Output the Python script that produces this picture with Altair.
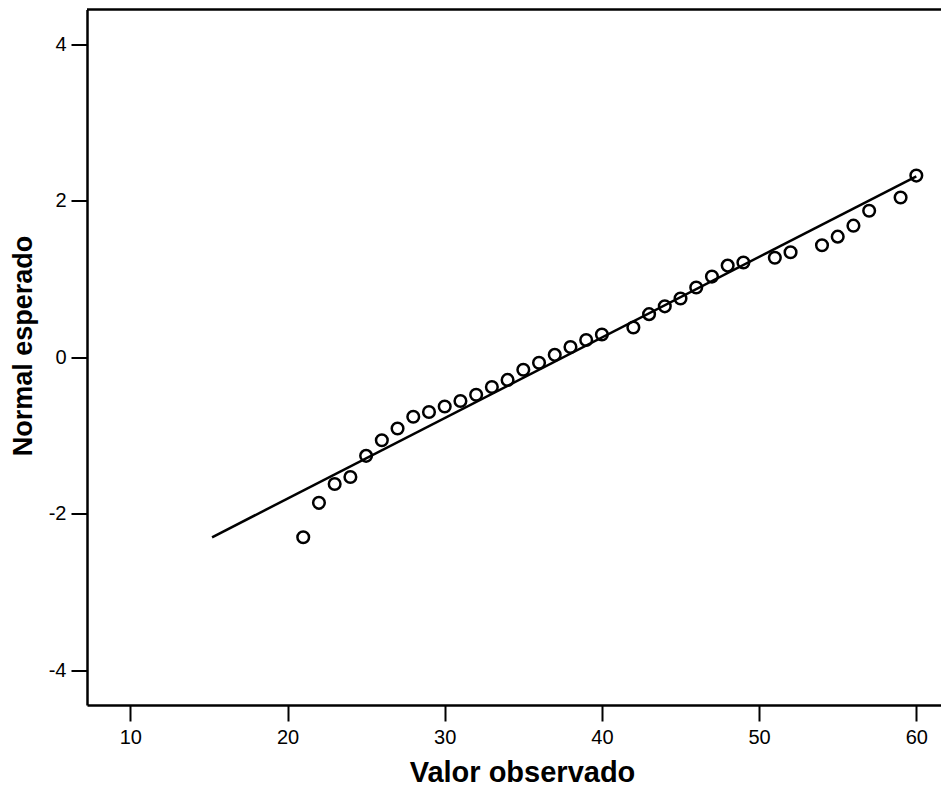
import altair as alt
import pandas as pd

# Observed values (x) and expected normal values (z)
observed = [21, 22, 23, 24, 25, 26, 27, 28, 29, 30, 31, 32, 33, 34, 35, 36, 37, 38,
            39, 40, 42, 43, 44, 45, 46, 47, 48, 49, 51, 52, 54, 55, 56, 57, 59, 60]
expected = [-2.30, -1.86, -1.62, -1.53, -1.26, -1.06, -0.91, -0.76, -0.70, -0.63,
            -0.56, -0.48, -0.38, -0.29, -0.16, -0.07, 0.03, 0.13, 0.22, 0.29,
            0.38, 0.55, 0.65, 0.75, 0.89, 1.03, 1.17, 1.21, 1.27, 1.34, 1.43,
            1.54, 1.68, 1.87, 2.04, 2.32]

# Reference line end points
line_x = [15.2, 60.0]
line_z = [-2.30, 2.31]

x_ticks = [10, 20, 30, 40, 50, 60]
y_ticks = [-4, -2, 0, 2, 4]

pts = pd.DataFrame({"x": observed, "z": expected})
ln = pd.DataFrame({"x": line_x, "z": line_z})

W, H = 854, 695.5
FONT = "Liberation Sans"

xs = alt.Scale(domain=[7.245, 61.57], nice=False, zero=False)
ys = alt.Scale(domain=[-4.442, 4.441], nice=False, zero=False)

x_axis = alt.Axis(values=x_ticks, grid=False, domainWidth=2.5, domainColor="black",
                  tickColor="black", tickWidth=2, tickSize=16, labelPadding=6,
                  labelFontSize=20, labelFont=FONT, labelColor="black",
                  labelExpr="'' + datum.value",
                  title="Valor observado", titleFont=FONT, titleFontSize=29,
                  titleFontWeight="bold", titleColor="black",
                  titleX=435, titleY=76, titleBaseline="alphabetic", titleAlign="center")
y_axis = alt.Axis(values=y_ticks, grid=False, domainWidth=2.5, domainColor="black",
                  tickColor="black", tickWidth=2, tickSize=16, labelPadding=5,
                  labelFontSize=20, labelFont=FONT, labelColor="black",
                  labelExpr="'' + datum.value",
                  title="Normal esperado", titleFont=FONT, titleFontSize=27,
                  titleFontWeight="bold", titleColor="black",
                  titleX=-56, titleY=336, titleBaseline="alphabetic", titleAlign="center",
                  titleAngle=270)

points = alt.Chart(pts).mark_point(shape="circle", filled=False, color="black",
                                   size=135, strokeWidth=2.5, opacity=1).encode(
    x=alt.X("x:Q", scale=xs, axis=x_axis),
    y=alt.Y("z:Q", scale=ys, axis=y_axis),
)

line = alt.Chart(ln).mark_line(color="black", strokeWidth=2.5).encode(
    x=alt.X("x:Q", scale=xs),
    y=alt.Y("z:Q", scale=ys),
)

top_border = alt.Chart(pd.DataFrame({"a": [0]})).mark_rule(color="black", strokeWidth=2.5).encode(
    x=alt.value(0), x2=alt.value(W + 5), y=alt.value(0)
)

chart = alt.layer(line, points, top_border).properties(
    width=W, height=H,
    autosize=alt.AutoSizeParams(type="none"),
    padding={"left": 79, "top": 1.5, "right": 0, "bottom": 82},
    background="white",
).configure_view(stroke=None)

chart.save("out.html", embed_options={"renderer": "svg", "actions": False})
